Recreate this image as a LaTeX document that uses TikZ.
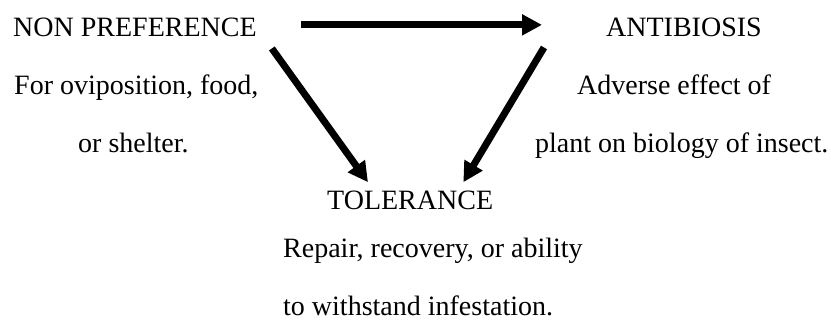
\documentclass[tikz,border=0pt]{standalone}
\usepackage{fontspec}
\setmainfont{Liberation Serif}
\usetikzlibrary{arrows.meta}
\tikzset{
  label text/.style={inner sep=0pt, anchor=base west, font=\fontsize{28}{34}\selectfont},
  bigarrow/.style={line width=7pt, -{Triangle[length=20pt,width=20pt]}}
}
\begin{document}
\begin{tikzpicture}[x=1pt,y=-1pt]
        \useasboundingbox (0,0) rectangle (831,327);

        % 左上の項目
        \node[label text] (nonpref) at (13,36) {NON PREFERENCE};
        \node[label text] (nonprefa) at (14,94) {For oviposition, food,};
        \node[label text] (nonprefb) at (78,152) {or shelter.};

        % 右上の項目
        \node[label text] (antib) at (606,36) {ANTIBIOSIS};
        \node[label text] (antiba) at (577,94) {Adverse effect of};
        \node[label text] (antibb) at (535,152) {plant on biology of insect.};

        % 下の項目
        \node[label text] (toler) at (327,209) {TOLERANCE};
        \node[label text] (tolera) at (283,257) {Repair, recovery, or ability};
        \node[label text] (tolerb) at (283,315) {to withstand infestation.};

        % 矢印
        \draw[bigarrow] ([xshift=44pt,yshift=2pt]nonpref.east) -- ([xshift=-64pt,yshift=2pt]antib.west);
        \draw[bigarrow] ([xshift=15pt,yshift=-12pt]nonpref.south east) -- ([xshift=41pt,yshift=8pt]toler.north west);
        \draw[bigarrow] ([xshift=-62pt,yshift=-11pt]antib.south west) -- ([xshift=-30pt,yshift=8pt]toler.north east);
\end{tikzpicture}
\end{document}
